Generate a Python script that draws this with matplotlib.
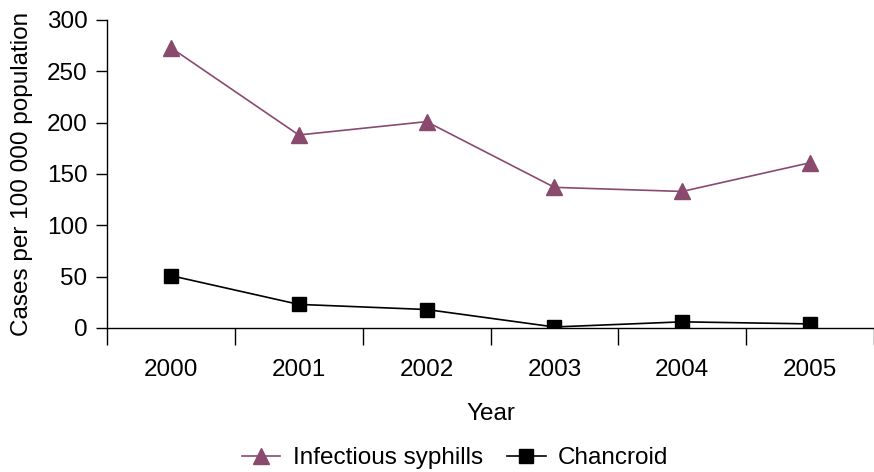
import matplotlib
matplotlib.use("Agg")
import matplotlib.pyplot as plt

years = ["2000", "2001", "2002", "2003", "2004", "2005"]
syphilis = [273, 188, 201, 137, 133, 161]
chancroid = [51, 23, 18, 1, 6, 4]

plt.rcParams["font.family"] = ["Liberation Sans", "DejaVu Sans"]

fig = plt.figure(figsize=(8.74, 4.72), dpi=100)
ax = fig.add_axes([107 / 874, 1 - 328 / 472, (874 - 107) / 874, 308 / 472])

x = list(range(len(years)))
ax.plot(x, syphilis, color="#8a4a6e", lw=1.2, marker="^", ms=12, label="Infectious syphills")
ax.plot(x, chancroid, color="black", lw=1.2, marker="s", ms=10, label="Chancroid")

ax.set_xlim(-0.5, 5.45)
ax.set_ylim(0, 300)
ax.set_yticks(range(0, 301, 50))
ax.set_xticks(x)
ax.set_xticklabels(years)
ax.set_xticks([i - 0.5 for i in range(7)], minor=True)
ax.tick_params(axis="x", which="major", length=0, pad=22, labelsize=17.5)
ax.tick_params(axis="x", which="minor", length=12, width=1)
ax.tick_params(axis="y", length=8, width=1, labelsize=17.5, pad=6)

for s in ["top", "right"]:
    ax.spines[s].set_visible(False)
ax.spines["left"].set_linewidth(1)
ax.spines["bottom"].set_linewidth(1)

ax.set_xlabel("Year", fontsize=17.5, labelpad=16)
ax.set_ylabel("Cases per 100 000 population", fontsize=17.5, labelpad=10)

ax.legend(loc="center", bbox_to_anchor=(455 / 874, 14 / 472), bbox_transform=fig.transFigure,
          ncol=2, frameon=False, fontsize=17.5, handlelength=1.6, columnspacing=1.0,
          handletextpad=0.5, borderaxespad=0)

fig.savefig("out.png", dpi=100)
